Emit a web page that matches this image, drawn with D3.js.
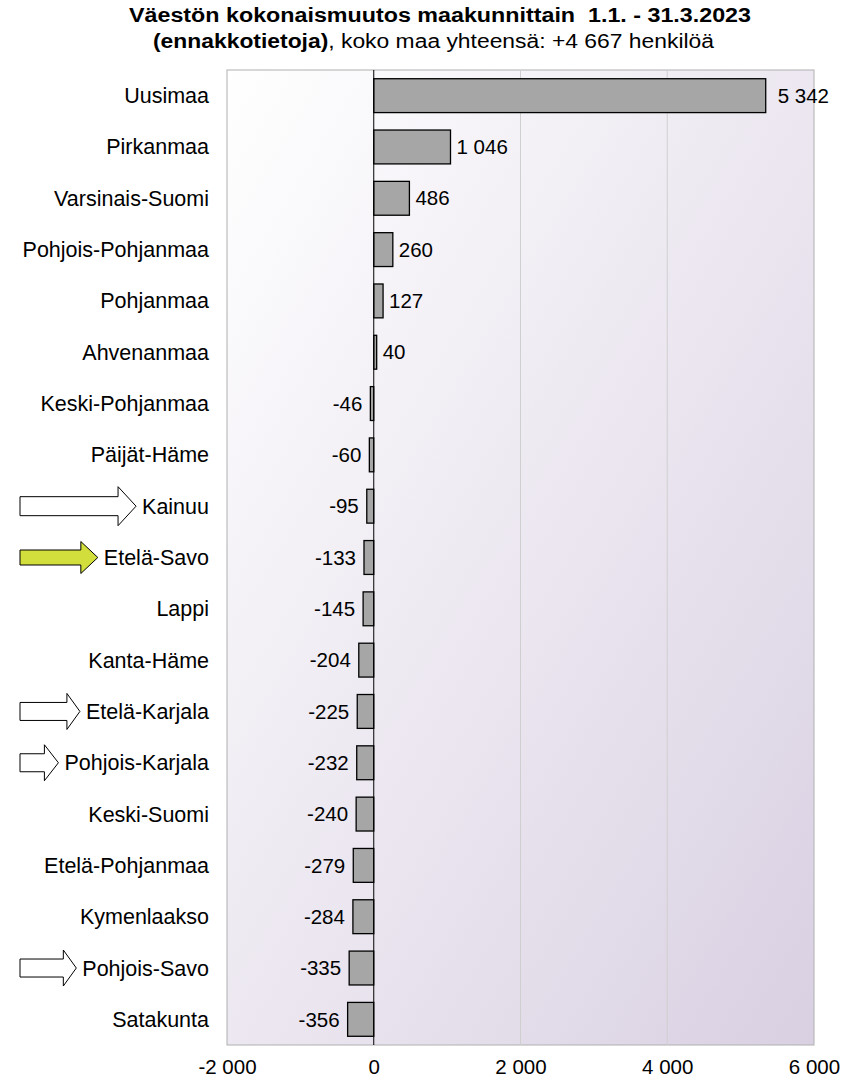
<!DOCTYPE html>
<html><head><meta charset="utf-8">
<script src="https://cdn.jsdelivr.net/npm/d3@7"></script>
<style>body{margin:0;background:#fff;}text{font-family:"Liberation Sans",Arial,sans-serif;}</style>
</head><body>
<svg id="chart" width="841" height="1078"></svg>
<script>
const categories = ["Uusimaa","Pirkanmaa","Varsinais-Suomi","Pohjois-Pohjanmaa","Pohjanmaa","Ahvenanmaa","Keski-Pohjanmaa","Päijät-Häme","Kainuu","Etelä-Savo","Lappi","Kanta-Häme","Etelä-Karjala","Pohjois-Karjala","Keski-Suomi","Etelä-Pohjanmaa","Kymenlaakso","Pohjois-Savo","Satakunta"];
const values = [5342,1046,486,260,127,40,-46,-60,-95,-133,-145,-204,-225,-232,-240,-279,-284,-335,-356];
const tickValues = [-2000,0,2000,4000,6000];
const arrowed = ["Kainuu","Etelä-Savo","Etelä-Karjala","Pohjois-Karjala","Pohjois-Savo"];
const titleLine1 = "Väestön kokonaismuutos maakunnittain  1.1. - 31.3.2023";
const titleBold2 = "(ennakkotietoja)";
const titleRest2 = ", koko maa yhteensä: +4 667 henkilöä";

// arrow styling (not data)
const arrowStyle = {
  "Kainuu":          {fill:"#ffffff", shaftH:19, headH:39, headLen:18},
  "Etelä-Savo":      {fill:"#d2de3c", shaftH:15, headH:32, headLen:17},
  "Etelä-Karjala":   {fill:"#ffffff", shaftH:18, headH:36, headLen:13},
  "Pohjois-Karjala": {fill:"#ffffff", shaftH:18, headH:36, headLen:14},
  "Pohjois-Savo":    {fill:"#ffffff", shaftH:18, headH:36, headLen:13}
};

const svg = d3.select("#chart");
const L = 227, R = 814, T = 70, B = 1045;
const FS = 20.5, FSL = 21.5;
const x = d3.scaleLinear().domain([-2000,6000]).range([L,R]);
const y = d3.scaleBand().domain(categories).range([T,B]).paddingInner(0.34).paddingOuter(0.17);
const fmt = v => (v<0?"-":"") + d3.format(",")(Math.abs(v)).replace(/,/g," ");

const defs = svg.append("defs");
const g = defs.append("linearGradient").attr("id","bg").attr("x1","0").attr("y1","0").attr("x2","1").attr("y2","1");
g.append("stop").attr("offset","0").attr("stop-color","#ffffff");
g.append("stop").attr("offset","1").attr("stop-color","#d9d0e2");

svg.append("rect").attr("x",L).attr("y",T).attr("width",R-L).attr("height",B-T).attr("fill","url(#bg)").attr("stroke","#b0b0b0").attr("stroke-width",1);

svg.append("g").selectAll("line").data(tickValues.filter(d=>d>0 && d<6000)).join("line")
  .attr("x1",d=>x(d)).attr("x2",d=>x(d)).attr("y1",T).attr("y2",B).attr("stroke","#cfcfcf").attr("stroke-width",1);

svg.append("g").selectAll("rect").data(values).join("rect")
  .attr("x",d=>x(Math.min(0,d))).attr("width",d=>Math.abs(x(d)-x(0)))
  .attr("y",(d,i)=>y(categories[i])).attr("height",y.bandwidth())
  .attr("fill","#a6a6a6").attr("stroke","#000").attr("stroke-width",1.3);

svg.append("line").attr("x1",x(0)).attr("x2",x(0)).attr("y1",T).attr("y2",B).attr("stroke","#000").attr("stroke-width",1);

svg.append("g").selectAll("text").data(values).join("text")
  .attr("x",d=>d>=0?x(d)+(d>5000?12:6):x(d)-8).attr("y",(d,i)=>y(categories[i])+y.bandwidth()/2)
  .attr("dy","0.35em").attr("text-anchor",d=>d>=0?"start":"end")
  .attr("font-size",FS).attr("fill","#000").text(fmt);

const axis = d3.axisBottom(x).tickValues(tickValues).tickSize(0).tickPadding(14).tickFormat(fmt);
const ax = svg.append("g").attr("transform",`translate(0,${B})`).call(axis);
ax.select(".domain").remove();
ax.selectAll("text").attr("font-size",FS).attr("font-family","Liberation Sans, Arial, sans-serif").attr("fill","#000");

const labels = svg.append("g").selectAll("text").data(categories).join("text")
  .attr("x",209).attr("y",d=>y(d)+y.bandwidth()/2).attr("dy","0.35em").attr("text-anchor","end")
  .attr("font-size",FSL).attr("fill","#000").text(d=>d);

labels.each(function(d){
  if(!arrowed.includes(d)) return;
  const s = arrowStyle[d];
  const bb = this.getBBox();
  const tip = bb.x - 6, x0 = 20, cy = y(d)+y.bandwidth()/2;
  const hx = tip - s.headLen;
  const pts = [[x0,cy-s.shaftH/2],[hx,cy-s.shaftH/2],[hx,cy-s.headH/2],[tip,cy],[hx,cy+s.headH/2],[hx,cy+s.shaftH/2],[x0,cy+s.shaftH/2]];
  svg.append("path").attr("d","M"+pts.map(p=>p.join(",")).join("L")+"Z")
    .attr("fill",s.fill).attr("stroke","#000").attr("stroke-width",1);
});

const t = svg.append("text").attr("x",129).attr("y",22).attr("font-size",19.5).attr("font-weight","bold")
  .style("white-space","pre").text(titleLine1);
t.attr("textLength",622).attr("lengthAdjust","spacingAndGlyphs");
const t2 = svg.append("text").attr("x",153).attr("y",48).attr("font-size",19.5).style("white-space","pre");
t2.append("tspan").attr("font-weight","bold").text(titleBold2);
t2.append("tspan").text(titleRest2);
t2.attr("textLength",561).attr("lengthAdjust","spacingAndGlyphs");
</script>
</body></html>
